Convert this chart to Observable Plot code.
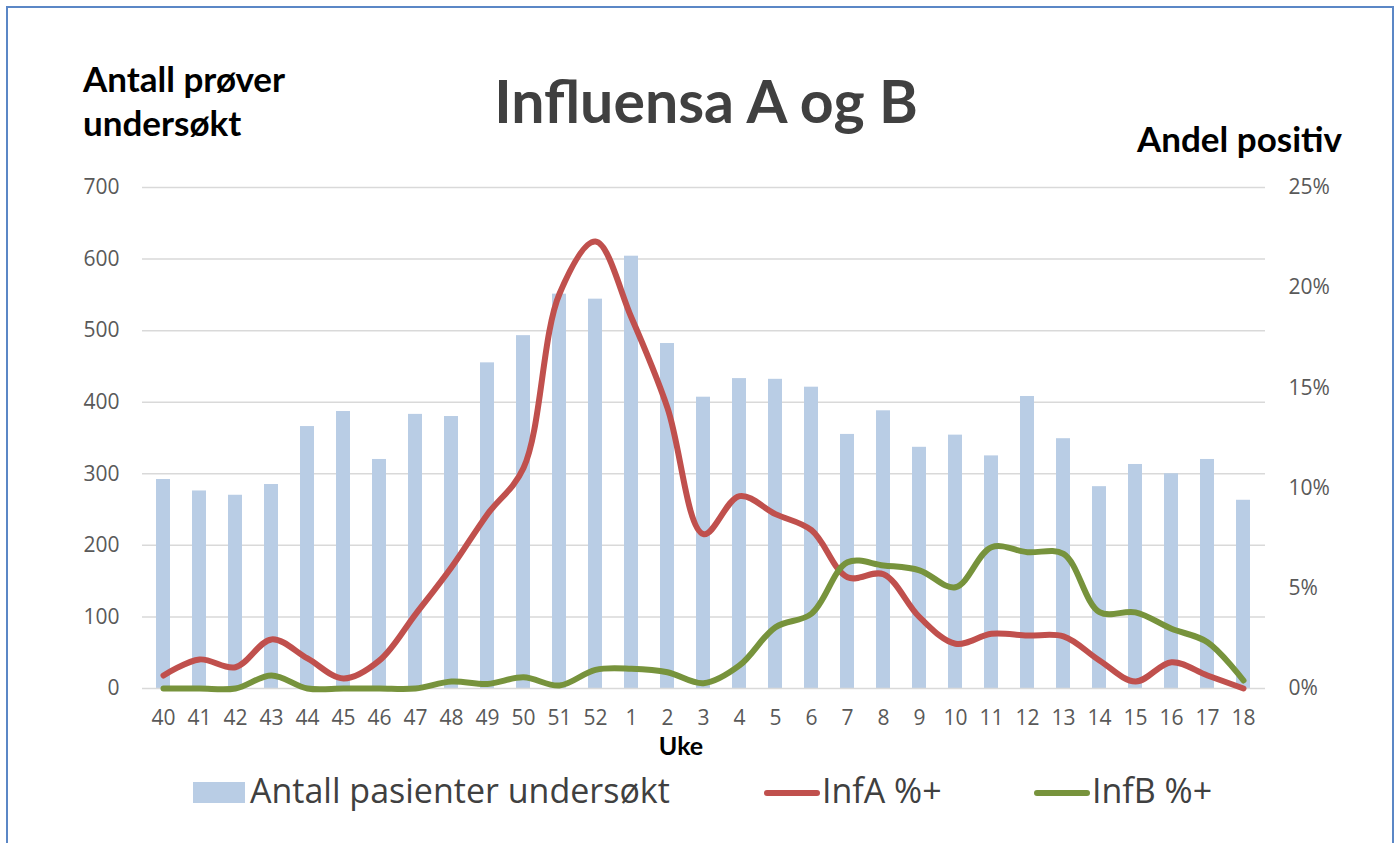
<!DOCTYPE html>
<html>
<head>
<meta charset="utf-8">
<script src="https://cdn.jsdelivr.net/npm/d3@7"></script>
<script src="https://cdn.jsdelivr.net/npm/@observablehq/plot@0.6"></script>
<style>
  html, body { margin: 0; padding: 0; background: #fff; }
  #wrap { position: relative; width: 1399px; height: 843px; overflow: hidden; background: #fff; }
  #frame { position: absolute; left: 6px; top: 6px; width: 1388px; height: 900px; box-sizing: border-box; border: 2px solid #5B87C6; }
  .t { position: absolute; white-space: nowrap; line-height: 1; }
  .bold { font-family: Lato, sans-serif; font-weight: 700; }
  .leg { font-family: "Open Sans", sans-serif; color: #404040; font-size: 34px; }
  #chart { position: absolute; left: 0; top: 0; }
  .sw { position: absolute; }
</style>
</head>
<body>
<div id="wrap">
  <div id="frame"></div>
  <div id="chart"></div>
  <div class="t bold" style="left:83px; top:61px; font-size:35px; color:#000;">Antall prøver</div>
  <div class="t bold" style="left:83px; top:105px; font-size:35px; color:#000;">undersøkt</div>
  <div class="t bold" style="left:0; width:1412px; text-align:center; top:71px; font-size:59px; color:#404040;">Influensa A og B</div>
  <div class="t bold" style="left:1137px; top:121px; font-size:35px; color:#000;">Andel positiv</div>
  <div class="t bold" style="left:0; width:1362px; text-align:center; top:733px; font-size:25px; color:#000;">Uke</div>

  <div class="sw" style="left:193px; top:782px; width:52px; height:21px; background:#B9CDE5;"></div>
  <div class="t leg" style="left:250px; top:773px;">Antall pasienter undersøkt</div>
  <div class="sw" style="left:764px; top:790px; width:56px; height:6px; border-radius:3px; background:#C0504D;"></div>
  <div class="t leg" style="left:822px; top:773px;">InfA %+</div>
  <div class="sw" style="left:1034px; top:790px; width:56px; height:6px; border-radius:3px; background:#77933C;"></div>
  <div class="t leg" style="left:1092px; top:773px;">InfB %+</div>
</div>
<script>
// Week labels (x categories)
const weeks = ["40","41","42","43","44","45","46","47","48","49","50","51","52",
               "1","2","3","4","5","6","7","8","9","10","11","12","13","14","15","16","17","18"];
// Antall pasienter undersøkt (bars, left axis)
const antall = [292,276,270,285,366,387,320,383,380,455,493,551,544,
                604,482,407,433,432,421,355,388,337,354,325,408,349,282,313,300,320,263];
// InfA %+ (right axis, percent)
const infA = [0.65,1.45,1.06,2.45,1.5,0.5,1.4,3.7,6.05,8.7,11.0,19.7,22.3,
              18.5,14.0,7.7,9.6,8.7,7.9,5.55,5.7,3.56,2.23,2.73,2.64,2.6,1.4,0.35,1.31,0.65,0];
// InfB %+ (right axis, percent)
const infB = [0,0,0,0.65,0,0,0,0,0.35,0.23,0.56,0.15,0.93,
              0.98,0.81,0.26,1.15,3.06,3.73,6.3,6.14,5.9,5.05,7.05,6.8,6.72,3.81,3.8,2.98,2.31,0.4];
// Axis ticks
const countTicks = [0,100,200,300,400,500,600,700];
const pctTicks = [0,5,10,15,20,25];

const countMax = 700, pctMax = 25;
const k = countMax / pctMax; // maps percent onto the count scale

const data = weeks.map((w, i) => ({week: w, antall: antall[i], infA: infA[i], infB: infB[i]}));

const chart = Plot.plot({
  width: 1399,
  height: 843,
  marginTop: 187,
  marginBottom: 155,
  marginLeft: 142,
  marginRight: 134,
  style: {fontFamily: "'Open Sans', sans-serif", fontSize: "21px", color: "#595959", background: "transparent", overflow: "visible"},
  x: {domain: weeks, paddingInner: 0.6, paddingOuter: 0.3, label: null},
  y: {domain: [0, countMax], label: null},
  marks: [
    Plot.ruleY(countTicks.filter(d => d > 0), {stroke: "#d9d9d9", strokeWidth: 1.5}),
    Plot.barY(data, {x: "week", y: "antall", fill: "#B9CDE5"}),
    Plot.ruleY([0], {stroke: "#d9d9d9", strokeWidth: 1.5}),
    Plot.line(data, {x: "week", y: d => d.infA * k, stroke: "#C0504D", strokeWidth: 6, curve: "catmull-rom", strokeLinecap: "round", strokeLinejoin: "round"}),
    Plot.line(data, {x: "week", y: d => d.infB * k, stroke: "#77933C", strokeWidth: 6, curve: "catmull-rom", strokeLinecap: "round", strokeLinejoin: "round"}),
    Plot.axisY(countTicks, {anchor: "left", tickSize: 0, tickPadding: 23, label: null}),
    Plot.axisY(pctTicks.map(p => p * k), {anchor: "right", tickSize: 0, tickPadding: 23, label: null, tickFormat: d => Math.round(d / k) + "%"}),
    Plot.axisX({tickSize: 0, tickPadding: 22, label: null})
  ]
});
document.getElementById("chart").appendChild(chart);
</script>
</body>
</html>
